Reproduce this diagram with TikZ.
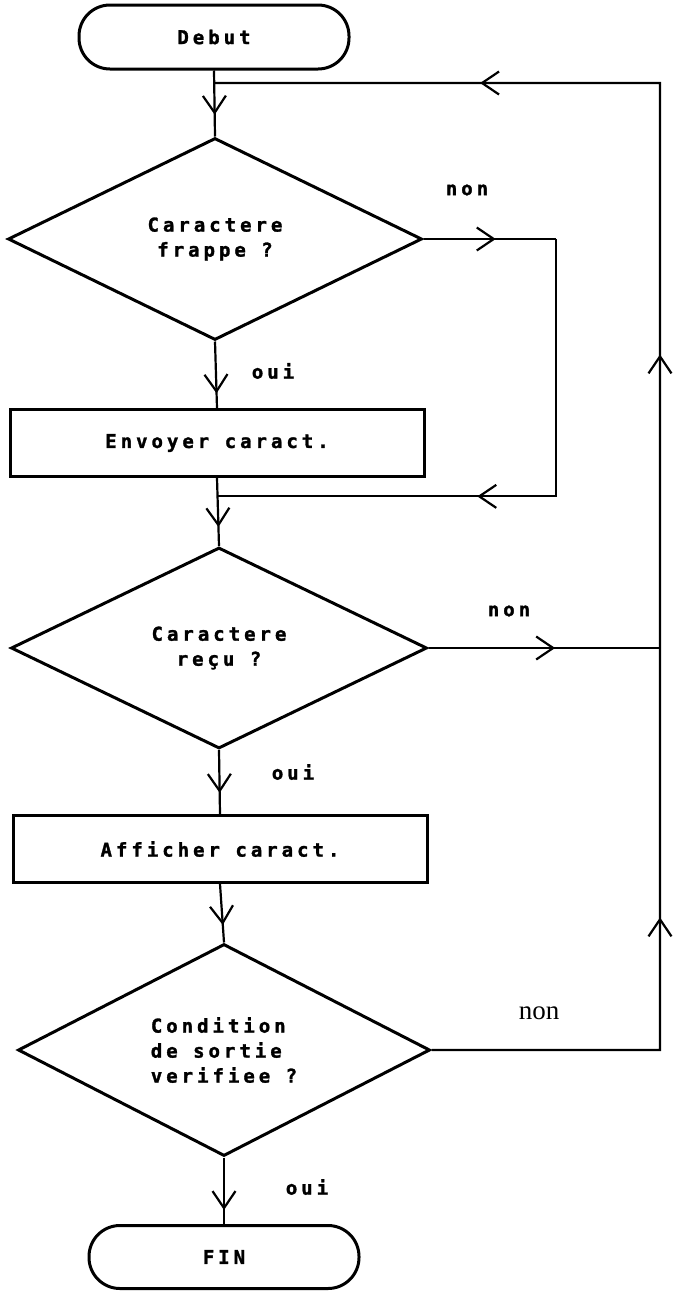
\documentclass[tikz,border=0pt]{standalone}
\usepackage{fontspec}
\newfontfamily\dotfont[LetterSpace=21, BoldFont={DejaVu Sans Mono Bold}, BoldFeatures={FakeBold=1.5}]{DejaVu Sans Mono}
\newfontfamily\romfont{Liberation Serif}
\usetikzlibrary{shapes.geometric, arrows.meta, decorations.markings, calc}

\begin{document}
\begin{tikzpicture}[x = 1pt, y = -1pt,
		every node/.style={font=\dotfont\bfseries\fontsize{19}{25}\selectfont},
		terminal/.style={draw, line width=3pt, rounded corners=31pt, minimum width=270pt, minimum height=64pt},
		action/.style={draw, line width=3pt, minimum width=414pt, minimum height=67pt},
		test/.style={draw, line width=3pt, diamond, inner sep=0pt, minimum width=414pt, minimum height=202pt, align=center},
		flow/.style={line width=2.2pt},
		arrowat/.style={postaction={decorate, decoration={markings, mark=at position #1 with {\arrow{Straight Barb[length=17pt, width=23pt, line width=2.2pt]}}}}}]
		\useasboundingbox (0,0) rectangle (678,1291);
		\node [terminal] (debut) at (214,37) {Debut};
		\node [test] (frappe) at (215,239) {Caractere\\frappe ?};
		\node [action] (envoi) at (217,443) {Envoyer caract.};
		\node [test, minimum width=416pt, minimum height=201pt] (recu) at (219,648) {Caractere\\reçu ?};
		\node [action] (affiche) at (220,849) {Afficher caract.};
		\node [test, align=left, minimum width=412pt, minimum height=197pt] (sortie) at (224,1050) {Condition\\de sortie\\verifiee ?};
		\node [terminal, minimum height=63pt] (fin) at (224,1257) {FIN};
		\coordinate (top) at ($(debut.south)!0.19!(frappe.north)$);
		\coordinate (mid) at ($(envoi.south)!0.27!(recu.north)$);
		\coordinate (retour) at (556,239);
		\coordinate (coin) at (660,83);
		\path [draw, flow, arrowat=0.67] (debut.south) -- (frappe.north);
		\path [draw, flow, arrowat=0.78] (frappe.south) -- (envoi.north);
		\path [draw, flow, arrowat=0.72] (envoi.south) -- (recu.north);
		\path [draw, flow, arrowat=0.67] (recu.south) -- (affiche.north);
		\path [draw, flow, arrowat=0.70] (affiche.south) -- (sortie.north);
		\path [draw, flow, arrowat=0.79] (sortie.south) -- (fin.north);
		\path [draw, flow, arrowat=0.545] (frappe.east) -- (retour);
		\path [draw, flow, arrowat=0.564] (retour) |- (mid);
		\path [draw, flow, arrowat=0.547] (recu.east) -- (recu.east -| coin);
		\path [draw, flow, arrowat=0.22, arrowat=0.563, arrowat=0.838] (sortie.east) -| (coin) -- (top);
		\node (non1) at (467,190) {non};
		\node (oui1) at (273,371) {oui};
		\node (non2) at (509,611) {non};
		\node (oui2) at (293,772) {oui};
		\node [font=\romfont\fontsize{27}{30}\selectfont] (non3) at (539,1013) {non};
		\node (oui3) at (307,1187) {oui};
	\end{tikzpicture}
\end{document}
